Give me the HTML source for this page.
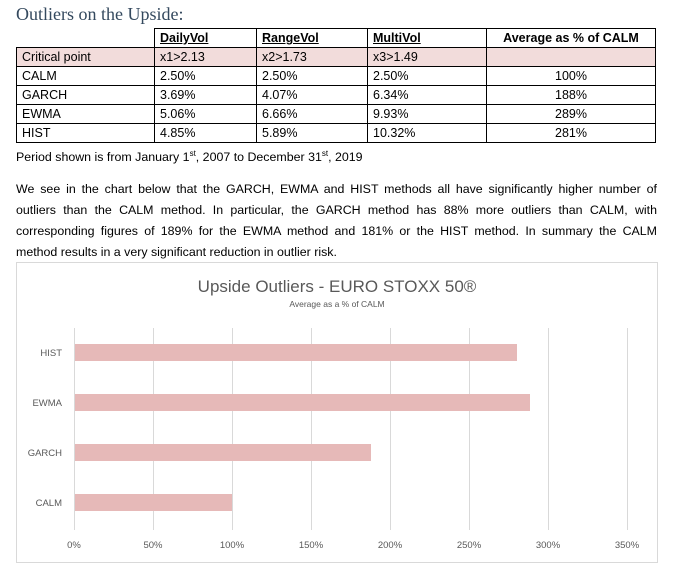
<!DOCTYPE html>
<html><head><meta charset="utf-8"><style>
body{margin:0;width:675px;height:580px;background:#fff;position:relative;font-family:"Liberation Sans",sans-serif;color:#000;overflow:hidden}
.t{position:absolute;white-space:nowrap}
table{position:absolute;left:16px;top:28px;border-collapse:collapse;font-size:12.5px}
td{border:1px solid #000;height:18px;padding:0 0 0 5px;line-height:18px}
.pk td{background:#f2dcdb}
.h td{font-weight:bold}
.u{text-decoration:underline}
.c{text-align:center;padding:0}
.ln{position:absolute;left:16px;width:641px;font-size:12.4px;text-align:justify;text-align-last:justify;white-space:nowrap}
sup{font-size:8px;line-height:0}
</style></head><body>
<div class="t" style="left:16px;top:4px;font-family:'Liberation Serif',serif;font-size:18px;color:#34495e">Outliers on the Upside:</div>
<table>
<colgroup><col style="width:138px"><col style="width:102px"><col style="width:111px"><col style="width:119px"><col style="width:169px"></colgroup>
<tr class="h"><td style="border:none;border-right:1px solid #000"></td><td class="u">DailyVol</td><td class="u">RangeVol</td><td class="u">MultiVol</td><td class="c">Average as % of CALM</td></tr>
<tr class="pk"><td>Critical point</td><td>x1&gt;2.13</td><td>x2&gt;1.73</td><td>x3&gt;1.49</td><td></td></tr>
<tr><td>CALM</td><td>2.50%</td><td>2.50%</td><td>2.50%</td><td class="c">100%</td></tr>
<tr><td>GARCH</td><td>3.69%</td><td>4.07%</td><td>6.34%</td><td class="c">188%</td></tr>
<tr><td>EWMA</td><td>5.06%</td><td>6.66%</td><td>9.93%</td><td class="c">289%</td></tr>
<tr><td>HIST</td><td>4.85%</td><td>5.89%</td><td>10.32%</td><td class="c">281%</td></tr>
</table>
<div class="t" style="left:16px;top:150px;font-size:12.4px">Period shown is from January 1<sup>st</sup>, 2007 to December 31<sup>st</sup>, 2019</div>
<div class="ln" style="top:182px">We see in the chart below that the GARCH, EWMA and HIST methods all have significantly higher number of</div>
<div class="ln" style="top:203px">outliers than the CALM method. In particular, the GARCH method has 88% more outliers than CALM, with</div>
<div class="ln" style="top:224px">corresponding figures of 189% for the EWMA method and 181% or the HIST method. In summary the CALM</div>
<div class="t" style="left:16px;top:245px;font-size:12.4px">method results in a very significant reduction in outlier risk.</div>
<svg style="position:absolute;left:0;top:0" width="675" height="580" font-family="Liberation Sans, sans-serif">
<rect x="16.5" y="262.5" width="641" height="300" fill="#fff" stroke="#d9d9d9"/>
<text x="337" y="292" font-size="17" fill="#595959" text-anchor="middle">Upside Outliers - EURO STOXX 50®</text>
<text x="337" y="307" font-size="8.5" fill="#595959" text-anchor="middle">Average as a % of CALM</text>
<g stroke="#d9d9d9">
<line x1="74.5" y1="328" x2="74.5" y2="530"/><line x1="153.5" y1="328" x2="153.5" y2="530"/><line x1="232.5" y1="328" x2="232.5" y2="530"/><line x1="311.5" y1="328" x2="311.5" y2="530"/><line x1="390.5" y1="328" x2="390.5" y2="530"/><line x1="469.5" y1="328" x2="469.5" y2="530"/><line x1="548.5" y1="328" x2="548.5" y2="530"/><line x1="627.5" y1="328" x2="627.5" y2="530"/>
</g>
<g fill="#e6b9b8">
<rect x="75" y="344" width="442" height="17"/>
<rect x="75" y="394" width="455" height="17"/>
<rect x="75" y="444" width="296" height="17"/>
<rect x="75" y="494" width="157" height="17"/>
</g>
<g font-size="9.5" fill="#595959" text-anchor="end">
<text x="62" y="356">HIST</text><text x="62" y="406">EWMA</text><text x="62" y="456">GARCH</text><text x="62" y="506">CALM</text>
</g>
<g font-size="9.5" fill="#595959" text-anchor="middle">
<text x="74" y="548">0%</text><text x="153" y="548">50%</text><text x="232" y="548">100%</text><text x="311" y="548">150%</text><text x="390" y="548">200%</text><text x="469" y="548">250%</text><text x="548" y="548">300%</text><text x="627" y="548">350%</text>
</g>
</svg>
</body></html>
